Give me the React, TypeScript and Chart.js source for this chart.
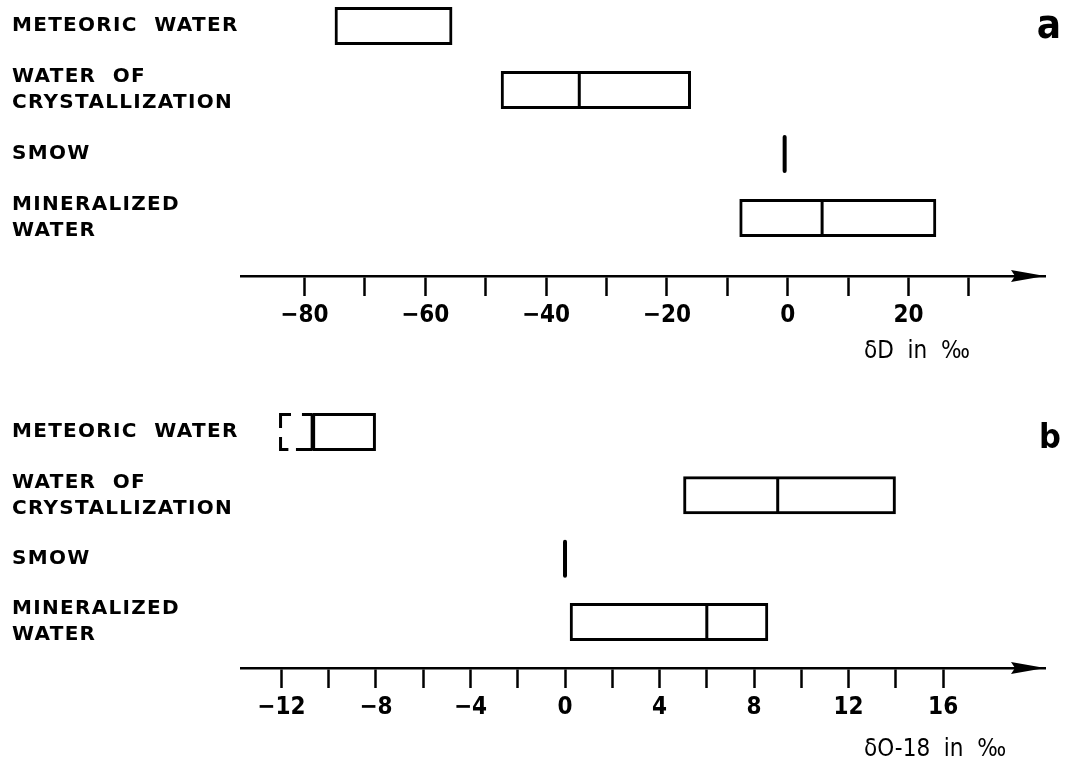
import React, { useEffect, useRef } from "react";
import { Chart, registerables } from "chart.js";

Chart.register(...registerables);

// ---- shared row labels ----
const rowLabels: string[][] = [
  ["METEORIC  WATER"],
  ["WATER  OF", "CRYSTALLIZATION"],
  ["SMOW"],
  ["MINERALIZED", "WATER"],
];

// ---- panel a : deuterium (δD, ‰) ----
const dLow: (number | null)[] = [-75, -47.5, null, -8];
const dMedian: (number | null)[] = [null, -34.5, null, 5.7];
const dHigh: (number | null)[] = [-55.5, -16, null, 24.6];
const dSolidFrom: (number | null)[] = [null, null, null, null];
const dSmow = -0.5;
const dTicks = [-80, -70, -60, -50, -40, -30, -20, -10, 0, 10, 20, 30];
const dTickLabels = [-80, -60, -40, -20, 0, 20];
const dTitle = "δD  in  ‰";

// ---- panel b : oxygen-18 (δO-18, ‰) ----
const oLow: (number | null)[] = [-12.1, 5.0, null, 0.2];
const oMedian: (number | null)[] = [-10.7, 9.0, null, 6.0];
const oHigh: (number | null)[] = [-8.0, 14.0, null, 8.6];
const oSolidFrom: (number | null)[] = [-11.3, null, null, null];
const oSmow = 0;
const oTicks = [-12, -10, -8, -6, -4, -2, 0, 2, 4, 6, 8, 10, 12, 14, 16];
const oTickLabels = [-12, -8, -4, 0, 4, 8, 12, 16];
const oTitle = "δO-18  in  ‰";

const W = 1066;
const H = 382;

type Panel = {
  low: (number | null)[];
  median: (number | null)[];
  high: (number | null)[];
  solidFrom: (number | null)[];
  smow: number;
  ticks: number[];
  tickLabels: number[];
  title: string;
  letter: string;
  xMin: number;
  xMax: number;
  yMin: number;
  yMax: number;
  axisY: number;
  titleY: number;
  letterFont: string;
  letterY: number;
};

const fmt = (v: number) => (v < 0 ? "\u2212" + Math.abs(v) : String(v));

const BAR = 38;

function makeChart(canvas: HTMLCanvasElement, p: Panel) {
  const deco = {
    id: "deco",
    beforeDraw(chart: any) {
      chart.ctx.letterSpacing = "1.3px";
    },
    afterDatasetsDraw(chart: any) {
      const ctx = chart.ctx as CanvasRenderingContext2D;
      ctx.letterSpacing = "0px";
      const xs = chart.scales.x;
      const ys = chart.scales.y;
      ctx.save();
      ctx.strokeStyle = "#000";
      ctx.fillStyle = "#000";
      // medians
      ctx.lineWidth = 3;
      p.median.forEach((m, i) => {
        if (m === null) return;
        const x = xs.getPixelForValue(m);
        const yc = ys.getPixelForValue(i);
        ctx.beginPath();
        ctx.moveTo(x, yc - BAR / 2 + 1);
        ctx.lineTo(x, yc + BAR / 2 - 1);
        ctx.stroke();
      });
      // dashed (uncertain) lower limits
      p.solidFrom.forEach((s, i) => {
        const lo = p.low[i];
        const m = p.median[i];
        if (s === null || lo === null) return;
        const xl = xs.getPixelForValue(lo) + 1.5;
        const xsol = xs.getPixelForValue(s);
        const xm = m === null ? xsol : xs.getPixelForValue(m);
        const yc = ys.getPixelForValue(i);
        const top = yc - BAR / 2 + 1.5;
        const bot = yc + BAR / 2 - 1.5;
        ctx.lineWidth = 3;
        ctx.beginPath();
        // solid stubs of the box left of the median
        ctx.moveTo(xm, top);
        ctx.lineTo(xsol + 4, top);
        ctx.moveTo(xm, bot);
        ctx.lineTo(xsol - 2, bot);
        // bracket
        ctx.moveTo(xl + (xsol - xl) * 0.6, top);
        ctx.lineTo(xl, top);
        ctx.lineTo(xl, yc - 4);
        ctx.moveTo(xl + (xsol - xl) * 0.45, bot);
        ctx.lineTo(xl, bot);
        ctx.lineTo(xl, yc + 5);
        ctx.stroke();
      });
      // SMOW reference line
      const smowRow = rowLabels.findIndex((r) => r[0] === "SMOW");
      const xs0 = xs.getPixelForValue(p.smow);
      const ysm = ys.getPixelForValue(smowRow);
      ctx.lineWidth = 4;
      ctx.lineCap = "round";
      ctx.beginPath();
      ctx.moveTo(xs0, ysm - BAR / 2 + 2);
      ctx.lineTo(xs0, ysm + BAR / 2 - 2);
      ctx.stroke();
      // arrow head on the axis
      const ax = chart.chartArea.right;
      const ay = chart.chartArea.bottom;
      ctx.beginPath();
      ctx.moveTo(ax, ay);
      ctx.lineTo(ax - 34, ay - 6);
      ctx.lineTo(ax - 30, ay);
      ctx.lineTo(ax - 34, ay + 6);
      ctx.closePath();
      ctx.fill();
      ctx.restore();
    },
    afterDraw(chart: any) {
      const ctx = chart.ctx as CanvasRenderingContext2D;
      ctx.save();
      ctx.letterSpacing = "0px";
      ctx.fillStyle = "#000";
      ctx.textBaseline = "middle";
      ctx.textAlign = "left";
      ctx.font = '24px "DejaVu Sans Condensed", "DejaVu Sans", sans-serif';
      ctx.fillText(p.title, 864, p.titleY);
      ctx.textAlign = "right";
      ctx.textBaseline = "alphabetic";
      ctx.font = p.letterFont;
      ctx.fillText(p.letter, 1061, p.letterY);
      ctx.restore();
    },
  };

  // boxes whose lower end is certain (all four edges drawn)
  const solidRows = p.low
    .map((lo, i) =>
      lo === null || p.high[i] === null || p.solidFrom[i] !== null
        ? null
        : { y: i, x: [lo, p.high[i] as number] }
    )
    .filter((d) => d !== null);
  // boxes with an uncertain lower end: the solid box starts at the median
  const openRows = p.low
    .map((lo, i) =>
      lo === null || p.high[i] === null || p.solidFrom[i] === null
        ? null
        : { y: i, x: [(p.median[i] ?? (p.solidFrom[i] as number)) as number, p.high[i] as number] }
    )
    .filter((d) => d !== null);

  const common = {
    backgroundColor: "rgba(0,0,0,0)",
    borderColor: "#000",
    borderWidth: 3,
    borderSkipped: false,
    barThickness: BAR,
    inflateAmount: 0,
    grouped: false,
  };

  return new Chart(canvas, {
    type: "bar",
    data: {
      datasets: [
        { ...common, data: solidRows as any } as any,
        { ...common, data: openRows as any } as any,
      ],
    },
    options: {
      indexAxis: "y",
      responsive: false,
      animation: false,
      events: [],
      layout: { padding: { left: 12, right: 21, top: 0, bottom: 0 } },
      plugins: { legend: { display: false }, tooltip: { enabled: false } },
      scales: {
        x: {
          type: "linear",
          position: "bottom",
          min: p.xMin,
          max: p.xMax,
          afterBuildTicks: (s: any) => {
            s.ticks = p.ticks.map((v) => ({ value: v }));
          },
          afterFit: (s: any) => {
            s.height = H - p.axisY;
            s.paddingLeft = 0;
            s.paddingRight = 0;
          },
          ticks: {
            z: 1,
            autoSkip: false,
            maxRotation: 0,
            padding: 5,
            color: "#000",
            font: {
              family: '"DejaVu Sans Condensed", "DejaVu Sans", sans-serif',
              size: 24,
              weight: "bold",
            },
            callback: (v: any) => (p.tickLabels.includes(Number(v)) ? fmt(Number(v)) : ""),
          },
          grid: {
            drawOnChartArea: false,
            drawTicks: true,
            tickLength: 20,
            tickWidth: 2.5,
            tickColor: "#000",
          },
          border: { display: true, color: "#000", width: 2.5, dash: [28, 5] },
        } as any,
        y: {
          type: "linear",
          reverse: true,
          offset: false,
          min: p.yMin,
          max: p.yMax,
          afterBuildTicks: (s: any) => {
            s.ticks = rowLabels.map((_, i) => ({ value: i }));
          },
          afterFit: (s: any) => {
            s.width = 229;
            s.paddingTop = 0;
            s.paddingBottom = 0;
          },
          ticks: {
            autoSkip: false,
            crossAlign: "far",
            color: "#000",
            font: { family: '"DejaVu Sans", sans-serif', size: 20, weight: "bold", lineHeight: 1.3 },
            callback: (v: any) => rowLabels[Number(v)] ?? "",
          },
          grid: { display: false },
          border: { display: false },
        } as any,
      },
    },
    plugins: [deco],
  });
}

const panelA: Panel = {
  low: dLow,
  median: dMedian,
  high: dHigh,
  solidFrom: dSolidFrom,
  smow: dSmow,
  ticks: dTicks,
  tickLabels: dTickLabels,
  title: dTitle,
  letter: "a",
  xMin: -90.5,
  xMax: 42.6,
  yMin: -0.406,
  yMax: 3.906,
  axisY: 276,
  titleY: 352,
  letterFont: 'bold 40px "Liberation Sans Narrow", "DejaVu Sans Condensed", sans-serif',
  letterY: 38,
};

const panelB: Panel = {
  low: oLow,
  median: oMedian,
  high: oHigh,
  solidFrom: oSolidFrom,
  smow: oSmow,
  ticks: oTicks,
  tickLabels: oTickLabels,
  title: oTitle,
  letter: "b",
  xMin: -13.71,
  xMax: 20.31,
  yMin: -0.789,
  yMax: 3.726,
  axisY: 286,
  titleY: 368,
  letterFont: 'bold 34px "Liberation Sans Narrow", "DejaVu Sans Condensed", sans-serif',
  letterY: 66,
};

function PanelChart({ panel, top }: { panel: Panel; top: number }) {
  const ref = useRef<HTMLCanvasElement | null>(null);
  useEffect(() => {
    if (!ref.current) return;
    const chart = makeChart(ref.current, panel);
    return () => chart.destroy();
  }, [panel]);
  return (
    <canvas
      ref={ref}
      width={W}
      height={H}
      style={{ position: "absolute", left: 0, top, width: W, height: H, display: "block" }}
    />
  );
}

export default function App() {
  return (
    <div
      style={{
        position: "absolute",
        left: 0,
        top: 0,
        width: W,
        height: 764,
        background: "#fff",
        overflow: "hidden",
      }}
    >
      <PanelChart panel={panelA} top={0} />
      <PanelChart panel={panelB} top={382} />
    </div>
  );
}
